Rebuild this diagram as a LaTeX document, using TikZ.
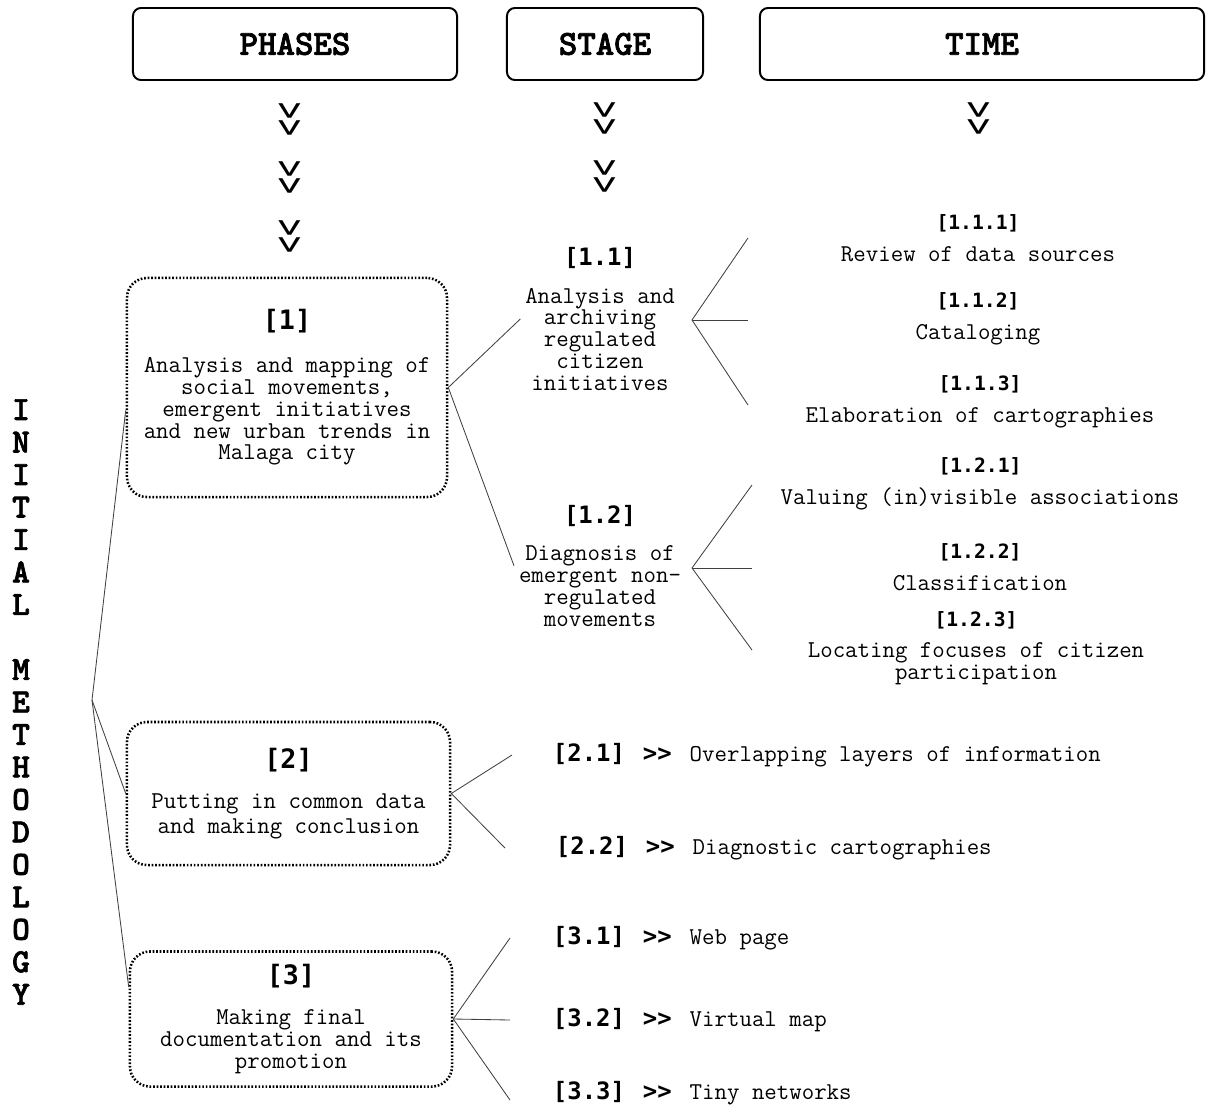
\documentclass[tikz,border=0pt]{standalone}
\usepackage{fontspec}
\newfontfamily\etiqfont{DejaVu Sans Mono}
\newfontfamily\titrefont{lmmonolt10-bold}[Extension=.otf, FakeBold=2]
\newcommand{\etiq}[2]{{\etiqfont\bfseries\fontsize{#1}{#1}\selectfont #2}}

\begin{document}
\begin{tikzpicture}[x=0.025cm,y=-0.025cm]
\tikzset{titre/.style={draw, line width=1.4pt, rounded corners=0.2cm, minimum height=1.8cm, font=\titrefont\fontsize{25}{25}\selectfont},
phase/.style={draw, line width=1.8pt, dash pattern=on 1.2pt off 1.3pt, rounded corners=0.5cm, align=center, font=\ttfamily\fontsize{17.2}{15.5}\selectfont},
texte/.style={align=center, font=\ttfamily\fontsize{17.2}{15.5}\selectfont},
chevron/.style={rotate=-90, yscale=1.6, font=\etiqfont\fontsize{20}{20}\selectfont},
lien/.style={line width=0.6pt, draw=black!75}}
\useasboundingbox (0,0) rectangle (1206,1106);
% en-tetes
\node[titre, minimum width=8.1cm] (phases) at (295,44) {PHASES};
\node[titre, minimum width=4.9cm] (stage) at (605,44) {STAGE};
\node[titre, minimum width=11.1cm] (time) at (982,44) {TIME};
\node[chevron] (cp1) at (288,119) {>\kern0pt>};
\node[chevron] (cp2) at (288,177) {>\kern0pt>};
\node[chevron] (cp3) at (288,236) {>\kern0pt>};
\node[chevron] (cs1) at (603,118) {>\kern0pt>};
\node[chevron] (cs2) at (603,176) {>\kern0pt>};
\node[chevron] (ct1) at (977,118) {>\kern0pt>};
\node[font=\titrefont\fontsize{24}{23.1}\selectfont, align=center] (vert) at (21,702)
  {I\\N\\I\\T\\I\\A\\L\\[23.1pt]M\\E\\T\\H\\O\\D\\O\\L\\O\\G\\Y};
% phases
\node[phase, minimum width=8cm, minimum height=5.475cm] (p1) at (287,387.5)
  {\etiq{19}{[1]}\\[15pt]Analysis and mapping of\\social movements,\\emergent initiatives\\and new urban trends in\\Malaga city};
\node[phase, minimum width=8.075cm, minimum height=3.575cm] (p2) at (288.5,793.5)
  {\etiq{19}{[2]}\\[13pt]Putting in common data\\[2pt]and making conclusion};
\node[phase, minimum width=8.05cm, minimum height=3.375cm] (p3) at (291,1019)
  {\etiq{19}{[3]}\\[13pt]Making final\\documentation and its\\promotion};
% etapes
\node[texte] (s11) at (600,319) {\etiq{17}{[1.1]}\\[11pt]Analysis and\\archiving\\regulated\\citizen\\initiatives};
\node[texte] (s12) at (600,566) {\etiq{17}{[1.2]}\\[11pt]Diagnosis of\\emergent non-\\regulated\\movements};
% temps
\node[texte] (t111) at (978,238) {\etiq{14}{[1.1.1]}\\[7pt]Review of data sources};
\node[texte] (t112) at (978,319) {\etiq{14}{[1.1.2]}\\[7pt]Cataloging};
\node[texte] (t113) at (980,402) {\etiq{14}{[1.1.3]}\\[7pt]Elaboration of cartographies};
\node[texte] (t121) at (980,484) {\etiq{14}{[1.2.1]}\\[7pt]Valuing (in)visible associations};
\node[texte] (t122) at (980,567) {\etiq{14}{[1.2.2]}\\[7pt]Classification};
\node[texte] (t123) at (976,648) {\etiq{14}{[1.2.3]}\\[7pt]Locating focuses of citizen\\participation};
\node[texte, anchor=west] (i21) at (548,755) {\etiq{17}{[2.1]}\hspace{0.45cm}\etiq{17}{>\kern0pt>}\hspace{0.45cm}Overlapping layers of information};
\node[texte, anchor=west] (i22) at (551,848) {\etiq{17}{[2.2]}\hspace{0.45cm}\etiq{17}{>\kern0pt>}\hspace{0.45cm}Diagnostic cartographies};
\node[texte, anchor=west] (i31) at (548,938) {\etiq{17}{[3.1]}\hspace{0.45cm}\etiq{17}{>\kern0pt>}\hspace{0.45cm}Web page};
\node[texte, anchor=west] (i32) at (548,1020) {\etiq{17}{[3.2]}\hspace{0.45cm}\etiq{17}{>\kern0pt>}\hspace{0.45cm}Virtual map};
\node[texte, anchor=west] (i33) at (548,1093) {\etiq{17}{[3.3]}\hspace{0.45cm}\etiq{17}{>\kern0pt>}\hspace{0.45cm}Tiny networks};
% liens
\coordinate (racine) at (92,700);
\draw[lien] (racine) -- ([yshift=-0.575cm]p1.west);
\draw[lien] (racine) -- (p2.west);
\draw[lien] (racine) -- ([yshift=0.8cm]p3.west);
\draw[lien] (s11.west) -- (p1.east) -- (s12.west);
\coordinate (v11) at (692,320);
\coordinate (b111) at (748,238);
\coordinate (b112) at (748,320);
\coordinate (b113) at (748,405);
\draw[lien] (b111) -- (v11) -- (b113);
\draw[lien] (v11) -- (b112);
\coordinate (v12) at (692,568);
\coordinate (b121) at (752,485);
\coordinate (b122) at (752,568);
\coordinate (b123) at (752,650);
\draw[lien] (b121) -- (v12) -- (b123);
\draw[lien] (v12) -- (b122);
\coordinate (b21) at (512,755);
\coordinate (b22) at (505,848);
\draw[lien] (b21) -- (p2.east) -- (b22);
\coordinate (b31) at (510,938);
\coordinate (b32) at (510,1020);
\coordinate (b33) at (510,1100);
\draw[lien] (b31) -- (p3.east) -- (b33);
\draw[lien] (p3.east) -- (b32);
\end{tikzpicture}
\end{document}
